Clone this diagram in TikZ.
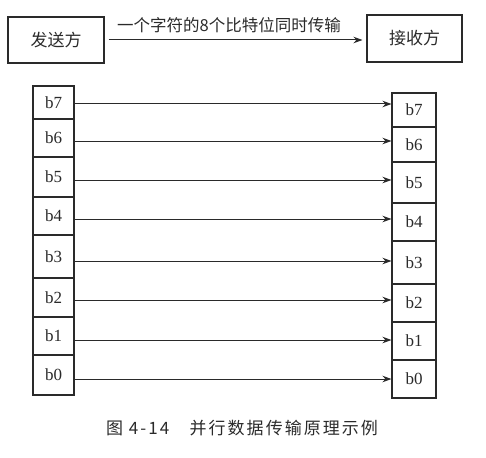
\documentclass[tikz,border=0pt]{standalone}
\usepackage{fontspec}
\setmainfont{Liberation Serif}
\newfontfamily\cjk{Noto Sans CJK SC}
\usetikzlibrary{arrows.meta}
\definecolor{ink}{HTML}{2A2A2A}
\tikzset{
  box/.style={draw=ink, line width=1.1pt, inner sep=0pt, text=ink},
  cell/.style={box, font=\fontsize{17}{17}\selectfont},
  conn/.style={draw=ink, line width=1pt, -{Stealth[length=9pt,width=6.5pt]}},
}
\begin{document}
\begin{tikzpicture}[x=1pt,y=-1pt]
\useasboundingbox (0,0) rectangle (486,457);
% top boxes
\node[box, minimum width=96pt, minimum height=46pt, font=\cjk\fontsize{17}{17}\selectfont] (snd) at (56,40) {发送方};
\node[box, minimum width=95pt, minimum height=47pt, font=\cjk\fontsize{17}{17}\selectfont] (rcv) at (414.5,38.5) {接收方};
\draw[conn, shorten <=4pt, shorten >=4pt] (snd.east) -- (snd.east -| rcv.west);
\node[text=ink, font=\cjk\fontsize{16.5}{16.5}\selectfont, inner sep=0pt] (lbl) at (229,25) {一个字符的8个比特位同时传输};
% left column: name/top/bottom
\foreach \b/\t/\u in {7/86/119,6/119/157,5/157/197,4/197/235,3/235/278,2/278/317,1/317/355,0/355/395}{
  \pgfmathsetmacro\c{(\t+\u)/2}
  \pgfmathsetmacro\h{\u-\t}
  \node[cell, minimum width=41pt, minimum height=\h pt] (l\b) at (53.5,\c) {b\b};
}
\foreach \b/\t/\u in {7/93/127,6/127/162,5/162/203,4/203/241,3/241/284,2/284/322,1/322/360,0/360/398}{
  \pgfmathsetmacro\c{(\t+\u)/2}
  \pgfmathsetmacro\h{\u-\t}
  \node[cell, minimum width=44pt, minimum height=\h pt] (r\b) at (414,\c) {b\b};
}
% arrows
\foreach \b/\y in {7/104,6/141,5/180,4/219,3/261,2/300,1/340,0/379}{
  \coordinate (s\b) at (l\b.east |- 0,\y);
  \draw[conn] (s\b) -- (s\b -| r\b.west);
}
% caption
\node[text=ink, font=\cjk\fontsize{17}{17}\selectfont\addfontfeature{LetterSpace=12}, inner sep=0pt] (cap) at (242,428) {图 4-14\hspace{1.2em}并行数据传输原理示例};
\end{tikzpicture}
\end{document}
